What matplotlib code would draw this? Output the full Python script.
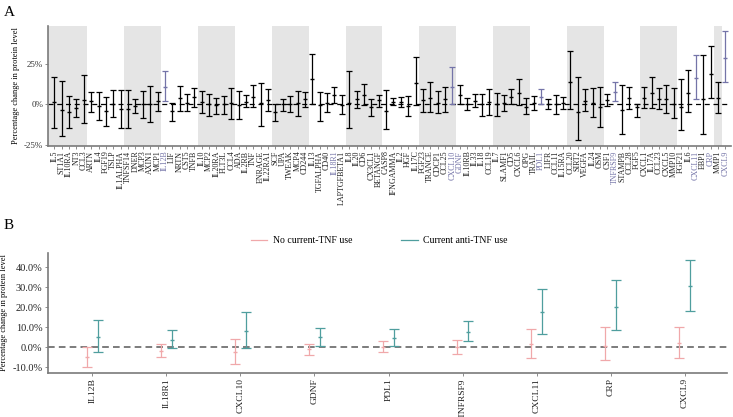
import numpy as np
import matplotlib
matplotlib.use("Agg")
import matplotlib.pyplot as plt

plt.rcParams['font.family'] = ['Liberation Serif', 'DejaVu Serif']

# ---- panel A data (percentage change, 95% CI) ----
proteins = ["IL5", "ST1A1", "IL10RA", "NT3", "CCL3", "ARTN", "IL4", "FGF19", "TSLP", "IL1ALPHA",
            "TNFSF14", "DNER", "MCP3", "AXIN1", "MCP1", "IL12B", "LIF", "NRTN", "CST5", "TNFB",
            "IL10", "MCP2", "IL20RA", "FLT3L", "CCL4", "ADA", "IL2RB", "TNF", "ENRAGE", "IL22RA1",
            "SCF", "UPA", "TWEAK", "MCP4", "CD244", "IL13", "TGFALPHA", "CD40", "IL18R1", "LAPTGFBETA1",
            "IL8", "IL20", "CD6", "CX3CL1", "BETANGF", "CASP8", "IFNGAMMA", "IL2", "HGF", "IL17C",
            "FGF23", "TRANCE", "CDCP1", "CCL25", "CXCL10", "GDNF", "IL10RB", "IL33", "IL18", "CCL19",
            "IL7", "SLAMF1", "CD5", "CXCL6", "OPG", "TRAIL", "PDL1", "LIFR", "CCL11", "IL15RA",
            "CCL20", "SIRT2", "VEGFA", "IL24", "OSM", "CSF1", "TNFRSF9", "STAMPB", "CCL28", "FGF5",
            "CXCL1", "IL17A", "CCL23", "CXCL5", "MMP10", "FGF21", "IL6", "CXCL11", "EBP1", "CRP",
            "MMP1", "CXCL9"]
est = [1.7, -3.5, -5.0, -2.0, 2.7, 2.0, -1.0, -4.1, 0.4, -2.7,
       -2.9, -1.0, 0.0, 0.4, 1.9, 10.5, -4.1, 3.7, 1.0, 4.3,
       1.4, 0.0, -0.2, 0.2, 0.6, -0.2, 1.7, 4.8, 0.6, 2.7,
       -4.8, 0.0, 0.0, 0.6, 3.1, 15.5, -0.6, 1.0, 5.8, -0.2,
       0.6, 3.1, 5.8, -1.9, 2.9, -4.3, 1.7, 1.4, -1.0, 13.0,
       2.7, 3.9, 1.0, 3.1, 11.0, 5.8, 0.0, 2.3, 0.0, 1.2,
       0.0, 0.6, 4.8, 6.8, -1.9, 1.0, 4.5, 0.4, 0.4, 0.6,
       13.6, -5.0, 2.0, 1.0, -1.9, 2.7, 7.9, -3.5, 3.7, -1.9,
       3.7, 6.8, 3.3, 3.3, 0.0, -1.4, 6.8, 16.1, 3.1, 18.8,
       3.7, 28.5]
lower = [-14.3, -19.4, -14.7, -7.9, -11.4, -4.5, -9.7, -13.6, -8.1, -14.3,
         -14.5, -5.2, -8.5, -10.7, -4.1, 2.1, -10.1, -4.1, -4.1, -1.4,
         -5.6, -7.4, -6.0, -5.8, -9.1, -9.1, -1.4, -1.9, -13.4, -4.1,
         -10.3, -4.3, -4.5, -7.0, -1.4, 0.0, -10.1, -4.5, 0.8, -6.0,
         -14.7, -2.5, -0.6, -7.4, -1.4, -15.5, -0.4, -1.9, -7.2, -0.6,
         -4.8, -4.8, -5.6, -4.8, 0.0, 0.4, -3.7, -1.9, -7.4, -6.6,
         -7.0, -4.1, 0.0, -0.6, -5.8, -3.7, 0.4, -2.9, -6.2, -2.7,
         -3.1, -22.1, -4.1, -8.1, -13.8, -1.0, 2.3, -18.4, -3.1, -8.1,
         -2.5, -2.5, -3.1, -5.6, -8.3, -15.9, -5.0, 3.1, -18.0, 3.7,
         -5.6, 13.6]
upper = [17.1, 14.5, 5.4, 3.1, 18.2, 7.4, 7.4, 4.8, 9.1, 8.7,
         9.1, 3.1, 8.3, 11.6, 7.9, 20.5, 1.0, 11.6, 6.2, 10.1,
         8.1, 6.6, 4.1, 5.4, 10.1, 8.1, 6.0, 11.8, 13.4, 9.7,
         0.4, 3.5, 5.0, 8.5, 7.4, 31.0, 7.4, 7.0, 11.0, 5.6,
         20.7, 8.3, 12.4, 3.5, 6.0, 8.7, 3.9, 4.3, 5.0, 29.5,
         9.7, 13.6, 8.3, 11.0, 22.9, 11.8, 4.1, 6.6, 6.6, 9.7,
         6.8, 6.0, 9.7, 15.7, 4.1, 5.0, 9.3, 3.5, 6.0, 4.8,
         32.6, 16.7, 9.3, 9.9, 11.0, 6.2, 13.6, 11.8, 10.5, 0.4,
         11.0, 16.7, 9.9, 12.0, 9.9, 15.9, 20.9, 30.4, 30.7, 35.7,
         13.6, 45.0]
highlight = ["IL12B", "IL18R1", "CXCL10", "GDNF", "PDL1", "TNFRSF9", "CXCL11", "CRP", "CXCL9"]
blue_bars = ["IL12B", "CXCL10", "PDL1", "TNFRSF9", "CXCL11", "CXCL9"]

# ---- panel B data ----
sel = ["IL12B", "IL18R1", "CXCL10", "GDNF", "PDL1", "TNFRSF9", "CXCL11", "CRP", "CXCL9"]
no_est = [-4.7, -1.7, -2.3, -0.8, 0.3, 0.0, 1.5, 0.8, 2.0]
no_lo = [-10.0, -4.7, -8.5, -4.0, -2.3, -3.2, -5.3, -6.3, -5.3]
no_hi = [0.3, 1.7, 4.0, 1.8, 3.0, 3.7, 9.2, 10.3, 10.0]
tnf_est = [5.3, 3.7, 8.3, 5.3, 4.5, 7.7, 17.5, 20.3, 30.5]
tnf_lo = [-2.5, -0.5, -0.2, 0.5, 0.7, 3.2, 6.7, 8.7, 18.2]
tnf_hi = [13.7, 8.5, 17.8, 9.7, 9.0, 13.0, 29.3, 33.8, 43.8]

pink = "#f0a8aa"
teal = "#4f9e9e"
blue = "#7474a8"
spine_col = "#7a7a7a"

fig = plt.figure(figsize=(7.33, 4.17), dpi=100)

# ---------------- panel A ----------------
ax = fig.add_axes([0.0655, 0.6506, 0.932, 0.287])
x = np.arange(1, len(proteins) + 1)
est = np.array(est)
lower = np.array(lower)
upper = np.array(upper)

# grey bands: every other group of five proteins
for s in range(0, len(proteins), 10):
    left = s + 0.5 if s > 0 else -1
    right = min(s + 5.5, len(proteins) - 0.5)
    ax.axvspan(left, right, color="#e5e5e5", lw=0, zorder=0)

ax.axhline(0, color="black", ls=(0, (4, 3)), lw=0.9, zorder=1)
for i, p in enumerate(proteins):
    c = blue if p in blue_bars else "black"
    ax.errorbar(x[i], est[i], yerr=[[est[i] - lower[i]], [upper[i] - est[i]]],
                fmt="_", ms=2.5, color=c, ecolor=c, elinewidth=0.9, capsize=2.2,
                capthick=0.9, zorder=3)

ax.set_xlim(0.15, 92.8)
ax.set_ylim(-25.5, 48.3)
ax.set_yticks([-25, 0, 25])
ax.set_yticklabels(["-25%", "0%", "25%"], fontsize=6.5)
ax.set_xticks(x)
ax.set_xticklabels(proteins, rotation=90, fontsize=5.8)
ax.tick_params(axis="both", length=2, width=0.6, colors=spine_col, pad=1.5)
for lab in ax.get_yticklabels():
    lab.set_color("#333333")
for lab in ax.get_xticklabels():
    lab.set_color(blue if lab.get_text() in highlight else "#222222")
for side in ["top", "right"]:
    ax.spines[side].set_visible(False)
for side in ["left", "bottom"]:
    ax.spines[side].set_color(spine_col)
    ax.spines[side].set_linewidth(1.2)
ax.set_ylabel("Percentage change in protein level", fontsize=6, labelpad=3)

# ---------------- panel B ----------------
bx = fig.add_axes([0.0655, 0.1062, 0.926, 0.2878])
xb = np.arange(1, len(sel) + 1)
bx.axhline(0, color="#666666", ls=(0, (4, 2.5)), lw=1.2, zorder=1)
d = 0.07
for i in range(len(sel)):
    bx.errorbar(xb[i] - d, no_est[i],
                yerr=[[no_est[i] - no_lo[i]], [no_hi[i] - no_est[i]]],
                fmt="_", ms=2.5, color=pink, elinewidth=0.9, capsize=3.5,
                capthick=0.9, zorder=3)
    bx.errorbar(xb[i] + d, tnf_est[i],
                yerr=[[tnf_est[i] - tnf_lo[i]], [tnf_hi[i] - tnf_est[i]]],
                fmt="_", ms=2.5, color=teal, elinewidth=0.9, capsize=3.5,
                capthick=0.9, zorder=3)
bx.plot([], [], color=pink, lw=0.9, label="No current-TNF use")
bx.plot([], [], color=teal, lw=0.9, label="Current anti-TNF use")
bx.legend(loc="lower center", bbox_to_anchor=(0.488, 1.0), ncol=2, frameon=False,
          fontsize=7, handlelength=1.7, handletextpad=0.6, columnspacing=5,
          borderaxespad=0.4)

bx.set_xlim(0.4, 9.57)
bx.set_ylim(-12.7, 47.3)
yt = [-10, 0, 10, 20, 30, 40]
bx.set_yticks(yt)
bx.set_yticklabels(["%.1f%%" % v for v in yt], fontsize=7.5)
bx.set_xticks(xb)
bx.set_xticklabels(sel, rotation=90, fontsize=6.8)
bx.tick_params(axis="both", length=2, width=0.6, colors=spine_col, pad=2)
for lab in bx.get_xticklabels() + bx.get_yticklabels():
    lab.set_color("#222222")
for side in ["top", "right"]:
    bx.spines[side].set_visible(False)
for side in ["left", "bottom"]:
    bx.spines[side].set_color(spine_col)
    bx.spines[side].set_linewidth(1.2)
bx.set_ylabel("Percentage change in protein level", fontsize=6, labelpad=3)

fig.text(0.005, 0.985, "A", fontsize=11, va="top", ha="left")
fig.text(0.005, 0.475, "B", fontsize=11, va="top", ha="left")

fig.savefig("out.png", dpi=100)
